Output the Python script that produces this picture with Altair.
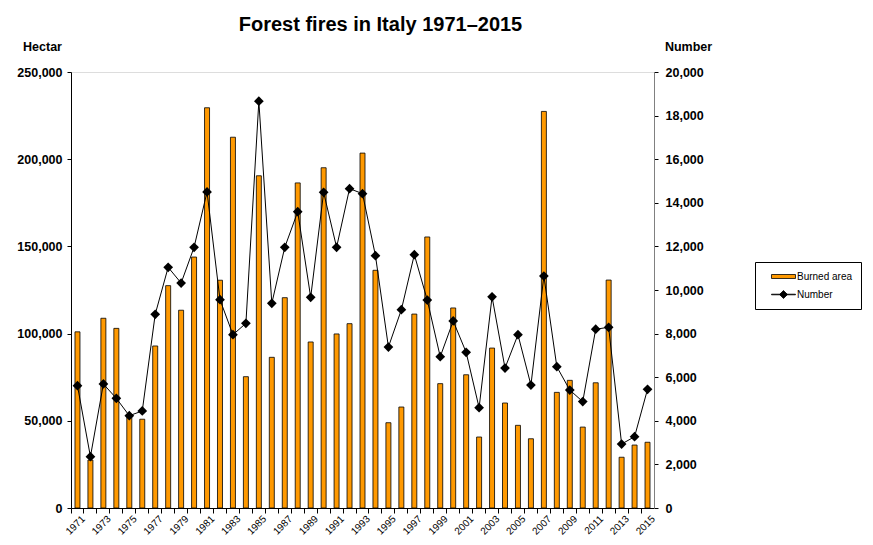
import altair as alt
import pandas as pd

years = list(range(1971, 2016))
burned_area = [101000, 27500, 108800, 103000, 53000, 50900, 92900, 127500, 113400, 143900,
               229500, 130600, 212600, 75300, 190500, 86400, 120600, 186400, 95200, 195100,
               99800, 105700, 203500, 136300, 48900, 57900, 111200, 155400, 71300, 114700,
               76400, 40700, 91700, 60200, 47400, 39700, 227400, 66300, 73200, 46400,
               71800, 130700, 29100, 36100, 37700]
fire_count = [5610, 2355, 5690, 5030, 4235, 4450, 8885, 11040, 10320, 11960,
              14500, 9555, 7950, 8470, 18660, 9390, 11960, 13590, 9665, 14480,
              11960, 14650, 14420, 11575, 7385, 9095, 11620, 9540, 6940, 8580,
              7140, 4600, 9690, 6420, 7950, 5640, 10640, 6480, 5410, 4880,
              8200, 8290, 2935, 3270, 5445]
series = ["Burned area", "Number"]
area_ticks = [0, 50000, 100000, 150000, 200000, 250000]
count_ticks = list(range(0, 20001, 2000))

df = pd.DataFrame({"year": years, "area": burned_area, "count": fire_count})
legend_df = pd.DataFrame({"series": series})

FONT = "Liberation Sans"
ORANGE = "#FF9900"

x_enc = alt.X(
    "year:O",
    title=None,
    scale=alt.Scale(paddingInner=0, paddingOuter=0),
    axis=alt.Axis(
        bandPosition=0,
        labelOffset=6,
        labelAngle=-45,
        labelAlign="right",
        labelBaseline="middle",
        labelFont=FONT,
        labelFontSize=10,
        labelColor="black",
        labelPadding=4,
        labelOverlap=False,
        labelExpr="datum.value % 2 == 1 ? datum.label : ''",
        tickSize=5,
        tickColor="black",
        domainColor="black",
    ),
)

base = alt.Chart(df).encode(x=x_enc)

bars = base.mark_bar(size=5, color=ORANGE, stroke="black", strokeWidth=0.8).encode(
    y=alt.Y(
        "area:Q",
        scale=alt.Scale(domain=[0, 250000], nice=False),
        axis=alt.Axis(
            values=area_ticks,
            format=",d",
            grid=False,
            title="Hectar",
            titleAngle=0,
            titleX=-29,
            titleY=-26,
            titleAlign="center",
            titleBaseline="middle",
            titleFont=FONT,
            titleFontSize=12.5,
            titleFontWeight="bold",
            labelFont=FONT,
            labelFontSize=12.5,
            labelFontWeight="bold",
            labelColor="black",
            labelPadding=5,
            tickSize=4,
            tickColor="black",
            domainColor="black",
        ),
    )
)

count_scale = alt.Scale(domain=[0, 20000], nice=False)
right_axis = alt.Axis(
    orient="right",
    values=count_ticks,
    format=",d",
    grid=False,
    title="Number",
    titleAngle=0,
    titleX=34,
    titleY=-26,
    titleAlign="center",
    titleBaseline="middle",
    titleFont=FONT,
    titleFontSize=12.5,
    titleFontWeight="bold",
    labelFont=FONT,
    labelFontSize=12.5,
    labelFontWeight="bold",
    labelColor="black",
    labelPadding=7,
    tickSize=4,
    tickColor="black",
    domainColor="#808080",
)

line = base.mark_line(color="black", strokeWidth=1).encode(
    y=alt.Y("count:Q", scale=count_scale, axis=right_axis)
)

points = base.mark_point(shape="diamond", filled=True, color="black", size=95, opacity=1).encode(
    y=alt.Y("count:Q", scale=count_scale, axis=right_axis)
)

rect_path = "M0.333,-0.333H4.333V0.333H0.333Z"
num_path = "M0.333,-0.05H4.333V0.05H0.333ZM2.333,-0.667L3,0L2.333,0.667L1.667,0Z"

legend_cfg = alt.Legend(
    title=None,
    orient="none",
    legendX=684,
    legendY=190,
    padding=8,
    strokeColor="black",
    fillColor="white",
    symbolSize=144,
    symbolStrokeWidth=0.8,
    symbolOpacity=1,
    labelFont=FONT,
    labelFontSize=10,
    labelColor="black",
    labelOffset=21,
    rowPadding=6,
)

legend_layer = alt.Chart(legend_df).mark_point(
    filled=True, opacity=0, strokeWidth=0.8
).encode(
    fill=alt.Fill("series:N", scale=alt.Scale(domain=series, range=[ORANGE, "black"]), legend=legend_cfg),
    stroke=alt.Stroke("series:N", scale=alt.Scale(domain=series, range=["black", "black"]), legend=legend_cfg),
    shape=alt.Shape("series:N", scale=alt.Scale(domain=series, range=[rect_path, num_path]), legend=legend_cfg),
)

chart = (
    alt.layer(bars, alt.layer(line, points), legend_layer)
    .resolve_scale(y="independent")
    .properties(
        width=583,
        height=436,
        autosize=alt.AutoSizeParams(type="none"),
        padding={"left": 63, "top": 64, "right": 211, "bottom": 29},
        title=alt.Title(
            "Forest fires in Italy 1971–2015",
            font=FONT,
            fontSize=20,
            fontWeight="bold",
            color="black",
            anchor="middle",
            dx=18,
            offset=5,
        ),
    )
    .configure_view(stroke=None)
    .configure(font=FONT)
)

chart.save("out.html", embed_options={"renderer": "svg", "actions": False})
